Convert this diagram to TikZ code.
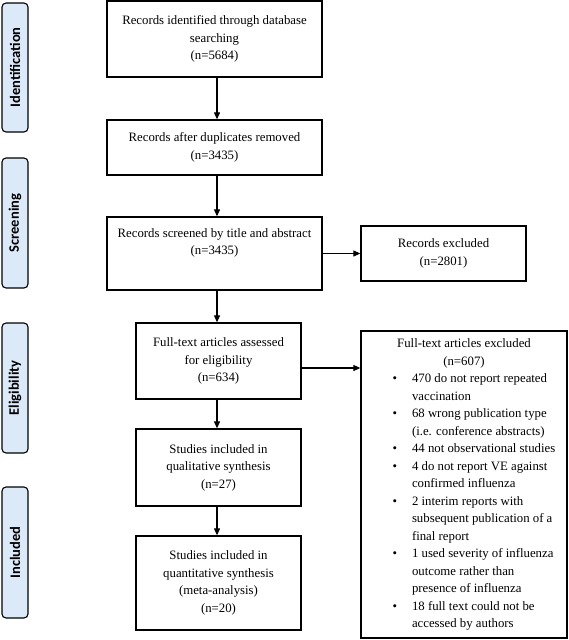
\documentclass[tikz,border=0pt]{standalone}
\usepackage{fontspec}
\setmainfont{Liberation Serif}
\newfontfamily\sidefont{Carlito}
\usepackage{enumitem}
\usetikzlibrary{arrows.meta}
\definecolor{sideblue}{HTML}{DCE9F8}
\tikzset{
  box/.style={draw, line width=1.3pt, inner sep=0pt, align=center,
    font=\fontsize{12.8}{17.5}\selectfont},
  txt/.style={inner sep=0pt, align=center, font=\fontsize{12.8}{17.5}\selectfont},
  side/.style={draw, line width=1.1pt, rounded corners=4pt, fill=sideblue,
    minimum height=26pt, inner sep=0pt, rotate=90,
    font=\sidefont\bfseries\fontsize{14.5}{16}\selectfont},
  arr/.style={line width=1.1pt, -{Triangle[length=7pt,width=6pt]}},
}
\begin{document}
\begin{tikzpicture}[x=1pt,y=-1pt]
\useasboundingbox (0,0) rectangle (568,640);
% side labels
\node[side, minimum width=129pt] (sid) at (15,67.5) {Identification};
\node[side, minimum width=130pt] (ssc) at (15,223) {Screening};
\node[side, minimum width=130pt] (sel) at (15,388) {Eligibility};
\node[side, minimum width=131pt] (sin) at (15,552.5) {Included};
% main column
\node[box, minimum width=215pt, minimum height=76pt] (b1) at (214.5,39)
  {Records identified through database\\searching\\(n=5684)};
\node[box, minimum width=215pt, minimum height=55pt] (b2) at (214.5,147.5)
  {Records after duplicates removed\\(n=3435)};
\node[box, minimum width=215pt, minimum height=73pt] (b3) at (214.5,253.5) {};
\node[txt] (b3t) at (214.5,243) {Records screened by title and abstract\\(n=3435)};
\node[box, minimum width=165pt, minimum height=76pt] (b4) at (218.5,361)
  {Full-text articles assessed\\for eligibility\\(n=634)};
\node[box, minimum width=165pt, minimum height=77pt] (b5) at (218.5,467.5)
  {Studies included in\\qualitative synthesis\\(n=27)};
\node[box, minimum width=165pt, minimum height=94pt] (b6) at (218.5,583)
  {Studies included in\\quantitative synthesis\\(meta-analysis)\\(n=20)};
% exclusions
\node[box, minimum width=165pt, minimum height=55pt] (rex) at (443.5,253.5)
  {Records excluded\\(n=2801)};
\node[draw, line width=1.3pt, inner sep=0pt, minimum height=307pt,
  font=\fontsize{12.8}{17.5}\selectfont] (ex2) at (464,484.5)
{\begin{minipage}{206pt}
{\centering Full-text articles excluded\\(n=607)\par}
\raggedright
\begin{itemize}[leftmargin=51pt, labelsep=15pt, itemsep=0pt, topsep=0pt,
  parsep=0pt, partopsep=0pt, label=\textbullet]
\item 470 do not report repeated\\vaccination
\item 68 wrong publication type\\(i.e. conference abstracts)
\item 44 not observational studies
\item 4 do not report VE against\\confirmed influenza
\item 2 interim reports with\\subsequent publication of a\\final report
\item 1 used severity of influenza\\outcome rather than\\presence of influenza
\item 18 full text could not be\\accessed by authors
\end{itemize}
\end{minipage}};
% connectors
\coordinate (col) at (217,0);
\draw[arr] (b1.south -| col) -- (b2.north -| col);
\draw[arr] (b2.south -| col) -- (b3.north -| col);
\draw[arr] (b3.south -| col) -- (b4.north -| col);
\draw[arr] (b4.south -| col) -- (b5.north -| col);
\draw[arr] (b5.south -| col) -- (b6.north -| col);
\draw[arr] (b3.east) -- (b3.east -| rex.west);
\draw[arr] ([yshift=-7pt]b4.east) -- ([yshift=-7pt]b4.east -| ex2.west);
\end{tikzpicture}
\end{document}
